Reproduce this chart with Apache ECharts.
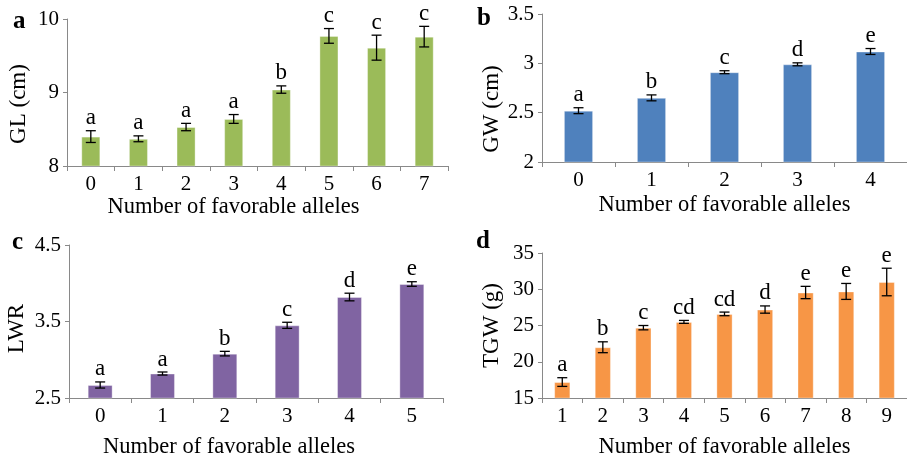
<!DOCTYPE html>
<html>
<head>
<meta charset="utf-8">
<script src="https://cdn.jsdelivr.net/npm/echarts@6/dist/echarts.min.js"></script>
<style>html,body{margin:0;padding:0;background:#fff;}#c{width:907px;height:460px;}</style>
</head>
<body>
<div id="c"></div>
<script>
// Panel a: GL
const catsA = ['0','1','2','3','4','5','6','7'];
const valsA = [8.40, 8.37, 8.53, 8.64, 9.04, 9.77, 9.61, 9.76];
const errsA = [0.08, 0.04, 0.05, 0.06, 0.05, 0.10, 0.17, 0.14];
const lettersA = ['a','a','a','a','b','c','c','c'];
// Panel b: GW
const catsB = ['0','1','2','3','4'];
const valsB = [2.52, 2.65, 2.91, 2.99, 3.12];
const errsB = [0.03, 0.03, 0.015, 0.015, 0.03];
const lettersB = ['a','b','c','d','e'];
// Panel c: LWR
const catsC = ['0','1','2','3','4','5'];
const valsC = [2.67, 2.82, 3.08, 3.45, 3.82, 3.99];
const errsC = [0.04, 0.02, 0.03, 0.04, 0.05, 0.03];
const lettersC = ['a','a','b','c','d','e'];
// Panel d: TGW
const catsD = ['1','2','3','4','5','6','7','8','9'];
const valsD = [17.2, 22.0, 24.7, 25.5, 26.6, 27.2, 29.55, 29.7, 31.0];
const errsD = [0.6, 0.75, 0.3, 0.2, 0.25, 0.5, 0.85, 1.1, 1.9];
const lettersD = ['a','b','c','cd','cd','d','e','e','e'];

const FONT = '"Liberation Serif", "Times New Roman", serif';
const AXIS_COLOR = '#898989';

function errSeries(idx, vals, errs, letters) {
  return {
    type: 'custom',
    xAxisIndex: idx, yAxisIndex: idx,
    z: 10,
    data: vals.map((v, i) => [i, v, errs[i]]),
    renderItem: function (params, api) {
      const x = api.value(0), v = api.value(1), e = api.value(2);
      const top = api.coord([x, v + e]);
      const bot = api.coord([x, v - e]);
      const cx = top[0], hw = 5;
      const st = { stroke: '#000', lineWidth: 1.3 };
      return {
        type: 'group',
        children: [
          { type: 'line', shape: { x1: cx, y1: top[1], x2: cx, y2: bot[1] }, style: st },
          { type: 'line', shape: { x1: cx - hw, y1: top[1], x2: cx + hw, y2: top[1] }, style: st },
          { type: 'line', shape: { x1: cx - hw, y1: bot[1], x2: cx + hw, y2: bot[1] }, style: st },
          { type: 'text', style: { text: letters[params.dataIndex], x: cx, y: top[1] - 1,
              align: 'center', verticalAlign: 'bottom', font: '23px ' + FONT, fill: '#000' } }
        ]
      };
    }
  };
}

function xAx(idx, cats, gap, pad) {
  return {
    type: 'category', gridIndex: idx, data: cats,
    name: 'Number of favorable alleles', nameLocation: 'middle', nameGap: gap,
    nameTextStyle: { fontFamily: FONT, fontSize: 22.5, color: '#000', padding: pad },
    axisLine: { lineStyle: { color: AXIS_COLOR, width: 1 } },
    axisTick: { show: true, length: 5, lineStyle: { color: AXIS_COLOR } },
    axisLabel: { fontFamily: FONT, fontSize: 21, color: '#000', margin: 8 },
    splitLine: { show: false }
  };
}
function yAx(idx, name, min, max, interval, gap, pad) {
  return {
    type: 'value', gridIndex: idx, min: min, max: max, interval: interval,
    name: name, nameLocation: 'middle', nameGap: gap, nameRotate: 90,
    nameTextStyle: { fontFamily: FONT, fontSize: 23, color: '#000', padding: pad },
    axisLine: { show: true, lineStyle: { color: AXIS_COLOR, width: 1 } },
    axisTick: { show: true, length: 4, lineStyle: { color: AXIS_COLOR } },
    axisLabel: { fontFamily: FONT, fontSize: 21, color: '#000', margin: 8 },
    splitLine: { show: false }
  };
}
function barSeries(idx, vals, color) {
  return {
    type: 'bar', xAxisIndex: idx, yAxisIndex: idx, data: vals, barWidth: '40%',
    itemStyle: { color: color, borderColor: 'rgba(255,255,255,0.35)', borderWidth: 1 },
    silent: true
  };
}

const chart = echarts.init(document.getElementById('c'), null, { renderer: 'canvas' });
chart.setOption({
  backgroundColor: '#fff',
  animation: false,
  grid: [
    { left: 67, top: 19, width: 381, height: 147 },
    { left: 542, top: 14, width: 375, height: 148 },
    { left: 69, top: 245, width: 374, height: 156 },
    { left: 542, top: 253, width: 375, height: 147 }
  ],
  xAxis: [
    xAx(0, catsA, 30, [0, 48, 0, 0]),
    xAx(1, catsB, 32, 0),
    xAx(2, catsC, 38, [0, 54, 0, 0]),
    xAx(3, catsD, 38, 0)
  ],
  yAxis: [
    yAx(0, 'GL (cm)', 8, 10, 1, 37, [0, 23, 0, 0]),
    yAx(1, 'GW (cm)', 2, 3.5, 0.5, 38, [0, 42, 0, 0]),
    yAx(2, 'LWR', 2.5, 4.5, 1, 41, [0, 14, 0, 0]),
    yAx(3, 'TGW (g)', 15, 35, 5, 39, 0)
  ],
  graphic: [
    { type: 'text', left: 13, top: 9, style: { text: 'a', font: 'bold 25px ' + FONT, fill: '#000' } },
    { type: 'text', left: 477, top: 6, style: { text: 'b', font: 'bold 25px ' + FONT, fill: '#000' } },
    { type: 'text', left: 12, top: 230, style: { text: 'c', font: 'bold 25px ' + FONT, fill: '#000' } },
    { type: 'text', left: 476, top: 229, style: { text: 'd', font: 'bold 25px ' + FONT, fill: '#000' } }
  ],
  series: [
    barSeries(0, valsA, '#9BBB59'),
    barSeries(1, valsB, '#4F81BD'),
    barSeries(2, valsC, '#8064A2'),
    barSeries(3, valsD, '#F79646'),
    errSeries(0, valsA, errsA, lettersA),
    errSeries(1, valsB, errsB, lettersB),
    errSeries(2, valsC, errsC, lettersC),
    errSeries(3, valsD, errsD, lettersD)
  ]
});
</script>
</body>
</html>
